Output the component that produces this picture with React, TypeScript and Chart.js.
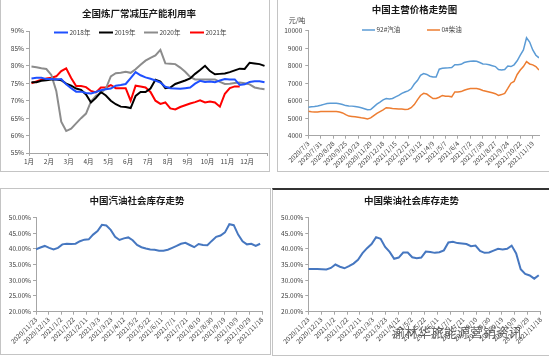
import React, { useEffect, useRef } from 'react';
import { Chart, registerables } from 'chart.js';

Chart.register(...registerables);

const FONT = '"Noto Sans CJK SC", "Noto Sans", sans-serif';

// ---------- Chart 1: 全国炼厂常减压产能利用率 ----------
const monthLabels = ['1月', '2月', '3月', '4月', '5月', '6月', '7月', '8月', '9月', '10月', '11月', '12月'];
const util2018 = [76.4, 76.6, 76.6, 76.2, 76.2, 76.1, 76.2, 74.7, 73.6, 72.6, 72.6, 72.2, 72.1, 72.5, 73.0, 73.3, 73.5, 74.3, 74.5, 74.8, 76.5, 78.2, 77.3, 76.7, 76.3, 75.8, 75.2, 74.0, 73.6, 73.5, 73.4, 73.6, 73.8, 74.9, 75.7, 75.4, 75.5, 75.3, 75.8, 76.2, 76.1, 76.1, 74.5, 74.7, 75.4, 75.6, 75.6, 75.3];
const util2019 = [75.3, 75.3, 75.7, 75.9, 76.1, 76.1, 75.9, 74.9, 74.3, 73.5, 73.1, 71.8, 69.5, 70.8, 72.5, 71.5, 70.0, 69.0, 68.3, 68.2, 67.9, 71.4, 72.5, 72.5, 73.5, 76.0, 75.5, 73.6, 73.8, 74.8, 75.3, 75.8, 76.4, 77.7, 78.8, 80.0, 78.5, 77.6, 77.7, 77.8, 78.2, 78.7, 79.2, 79.1, 80.9, 80.7, 80.5, 80.0];
const util2020 = [79.8, 79.6, 79.3, 79.1, 77.4, 72.8, 64.0, 61.3, 62.0, 63.5, 65.0, 66.3, 69.8, 71.4, 72.2, 73.5, 77.0, 77.9, 78.0, 78.3, 78.0, 79.0, 80.3, 81.5, 82.3, 83.0, 84.6, 80.7, 80.6, 80.5, 79.5, 78.3, 76.8, 76.1, 76.1, 76.1, 76.1, 76.1, 75.4, 74.8, 74.9, 75.1, 75.2, 75.0, 74.7, 73.8, 73.5, 73.3];
const util2021 = [75.0, 75.5, 76.0, 76.4, 76.6, 77.0, 78.5, 79.3, 76.5, 74.2, 74.2, 73.9, 72.8, 72.4, 73.8, 73.8, 74.5, 73.6, 73.6, 73.6, 70.0, 74.3, 74.1, 73.8, 72.5, 70.0, 69.1, 69.5, 67.8, 67.5, 68.2, 68.7, 69.2, 69.6, 70.1, 69.5, 69.8, 69.5, 68.3, 72.0, 73.6, 74.1, 74.1];
// position of each weekly reading, in months from 1月
const utilPos = (i: number) => 0.125 + i * 0.25;

// ---------- Chart 2: 中国主营价格走势图 ----------
const priceLabels = ['2020/7/3', '2020/7/31', '2020/8/28', '2020/9/25', '2020/10/23', '2020/11/20', '2020/12/18', '2021/1/15', '2021/2/12', '2021/3/12', '2021/4/9', '2021/5/7', '2021/6/4', '2021/7/2', '2021/7/30', '2021/8/27', '2021/9/24', '2021/10/22', '2021/11/19'];
const price92 = [5620, 5650, 5670, 5700, 5740, 5790, 5840, 5850, 5850, 5860, 5830, 5780, 5720, 5700, 5690, 5670, 5640, 5600, 5540, 5480, 5500, 5650, 5800, 5920, 6050, 6120, 6100, 6130, 6220, 6300, 6420, 6500, 6560, 6680, 6950, 7150, 7450, 7550, 7500, 7400, 7350, 7350, 7800, 7850, 7870, 7880, 7900, 8060, 8050, 8080, 8180, 8220, 8260, 8270, 8250, 8180, 8100, 8090, 8050, 8000, 7950, 7780, 7750, 7780, 7980, 7950, 8050, 8280, 8600, 8900, 9600, 9350, 8900, 8600, 8450];
const price0 = [5400, 5370, 5350, 5360, 5380, 5380, 5380, 5380, 5380, 5380, 5350, 5300, 5200, 5120, 5100, 5080, 5050, 5020, 5000, 4960, 5020, 5150, 5280, 5380, 5480, 5600, 5580, 5550, 5540, 5520, 5520, 5500, 5510, 5600, 5780, 6050, 6300, 6420, 6380, 6250, 6120, 6130, 6200, 6300, 6250, 6250, 6220, 6500, 6500, 6520, 6600, 6650, 6700, 6700, 6700, 6650, 6580, 6540, 6500, 6450, 6400, 6300, 6350, 6420, 6700, 7000, 7100, 7500, 7750, 7950, 8230, 8100, 8050, 7950, 7750];

// ---------- Charts 3 & 4: 社会库存 ----------
const stockLabels = ['2020/11/23', '2020/12/13', '2021/1/2', '2021/1/22', '2021/2/11', '2021/3/3', '2021/3/23', '2021/4/12', '2021/5/2', '2021/5/22', '2021/6/11', '2021/7/1', '2021/7/21', '2021/8/10', '2021/8/30', '2021/9/19', '2021/10/9', '2021/10/29', '2021/11/18'];
const gasStock = [39.8, 40.4, 40.9, 40.3, 39.8, 40.3, 41.4, 41.6, 41.5, 41.6, 42.4, 42.9, 43.0, 44.5, 45.6, 47.6, 47.4, 46.0, 43.8, 42.8, 43.3, 43.6, 42.7, 41.2, 40.5, 40.1, 39.8, 39.7, 39.4, 39.4, 39.7, 40.3, 40.9, 41.6, 41.9, 41.2, 40.5, 41.5, 41.2, 41.1, 42.5, 43.8, 44.2, 45.2, 47.8, 47.5, 44.5, 42.4, 41.4, 41.6, 40.9, 41.6];
const dieselStock = [33.6, 33.6, 33.6, 33.5, 33.4, 33.9, 35.0, 34.3, 33.8, 34.5, 35.3, 36.5, 38.6, 40.2, 41.5, 43.7, 43.2, 40.6, 39.0, 36.8, 37.2, 38.8, 38.8, 37.3, 37.0, 37.2, 39.1, 39.0, 38.7, 38.9, 39.5, 42.0, 42.2, 41.8, 41.7, 41.5, 40.8, 41.0, 39.3, 38.7, 38.8, 39.4, 40.0, 39.8, 40.0, 41.0, 38.5, 33.5, 32.0, 31.5, 30.5, 31.6];

const AXIS = '#a6a6a6';
const TICK_COLOR = '#404040';
const tickFont = { family: FONT, size: 6.5 };

const decorPlugin = {
  id: 'decor',
  afterDraw(chart: any, _args: any, opts: any) {
    const ctx = chart.ctx;
    ctx.save();
    for (const t of opts.texts || []) {
      ctx.font = t.font;
      ctx.fillStyle = t.color;
      ctx.textAlign = t.align || 'center';
      ctx.textBaseline = 'middle';
      ctx.fillText(t.text, t.x, t.y);
    }
    for (const l of opts.legend || []) {
      const ds = chart.data.datasets[l.ds];
      ctx.strokeStyle = ds.borderColor;
      ctx.lineWidth = l.lw;
      ctx.beginPath();
      ctx.moveTo(l.x, l.y);
      ctx.lineTo(l.x + l.len, l.y);
      ctx.stroke();
      ctx.font = `6.5px ${FONT}`;
      ctx.fillStyle = '#404040';
      ctx.textAlign = 'left';
      ctx.textBaseline = 'middle';
      ctx.fillText(ds.label, l.x + l.len + 1.5, l.y);
    }
    ctx.restore();
  },
};

function axisBase(size: number, isX: boolean) {
  return {
    afterFit: (s: any) => {
      if (isX) s.height = size;
      else s.width = size;
    },
    grid: { display: true, drawOnChartArea: false, tickLength: 3, color: AXIS },
    border: { display: true, color: AXIS },
  };
}

function lineDs(label: string, values: number[], pos: (i: number) => number, color: string, width: number) {
  return {
    label,
    data: values.map((v, i) => ({ x: pos(i), y: v })),
    borderColor: color,
    backgroundColor: color,
    borderWidth: width,
    pointRadius: 0,
    tension: 0,
    fill: false,
  };
}

const titleFont = `bold 9.5px ${FONT}`;

function utilConfig(): any {
  return {
    type: 'line',
    data: {
      datasets: [
        lineDs('2018年', util2018, utilPos, '#1f50ff', 2),
        lineDs('2019年', util2019, utilPos, '#000000', 2),
        lineDs('2020年', util2020, utilPos, '#8c8c8c', 2),
        lineDs('2021年', util2021, utilPos, '#ff0000', 2),
      ],
    },
    options: {
      animation: false,
      responsive: false,
      maintainAspectRatio: false,
      layout: { padding: { top: 31, right: 3, left: 0, bottom: 0 } },
      plugins: {
        legend: { display: false },
        tooltip: { enabled: false },
        decor: {
          texts: [{ text: '全国炼厂常减压产能利用率', x: 139, y: 13, font: titleFont, color: '#1a1a1a' }],
          legend: [
            { ds: 0, x: 54, y: 32.5, len: 14, lw: 2 },
            { ds: 1, x: 99, y: 32.5, len: 14, lw: 2 },
            { ds: 2, x: 144, y: 32.5, len: 14, lw: 2 },
            { ds: 3, x: 190, y: 32.5, len: 14, lw: 2 },
          ],
        },
      },
      scales: {
        x: {
          type: 'linear',
          min: 0,
          max: 12,
          ...axisBase(19, true),
          ticks: {
            stepSize: 1,
            autoSkip: false,
            maxRotation: 0,
            minRotation: 0,
            padding: 2,
            font: tickFont,
            color: TICK_COLOR,
            callback: (v: number) => monthLabels[v] ?? '',
          },
        },
        y: {
          min: 55,
          max: 90,
          ...axisBase(29, false),
          ticks: { stepSize: 5, padding: 2, font: tickFont, color: TICK_COLOR, callback: (v: number) => v + '%' },
        },
      },
    },
  };
}

function priceConfig(): any {
  const pos = (i: number) => i;
  return {
    type: 'line',
    data: {
      datasets: [
        lineDs('92#汽油', price92, pos, '#5b9bd5', 1.5),
        lineDs('0#柴油', price0, pos, '#ed7d31', 1.5),
      ],
    },
    options: {
      animation: false,
      responsive: false,
      maintainAspectRatio: false,
      layout: { padding: { top: 30.7, right: 10, left: 0, bottom: 0 } },
      plugins: {
        legend: { display: false },
        tooltip: { enabled: false },
        decor: {
          texts: [
            { text: '中国主营价格走势图', x: 138.5, y: 9.5, font: titleFont, color: '#1a1a1a' },
            { text: '元/吨', x: 21, y: 20, font: `7px ${FONT}`, color: '#404040' },
          ],
          legend: [
            { ds: 0, x: 86, y: 30, len: 13, lw: 1.5 },
            { ds: 1, x: 151, y: 30, len: 13, lw: 1.5 },
          ],
        },
      },
      scales: {
        x: {
          type: 'linear',
          min: 0,
          max: 74,
          ...axisBase(36.3, true),
          ticks: {
            stepSize: 4,
            includeBounds: false,
            autoSkip: false,
            maxRotation: 45,
            minRotation: 45,
            padding: 1,
            font: tickFont,
            color: TICK_COLOR,
            callback: (v: number) => (v % 4 === 0 ? priceLabels[v / 4] ?? '' : ''),
          },
        },
        y: {
          min: 4000,
          max: 10000,
          ...axisBase(32.3, false),
          ticks: { stepSize: 1000, padding: 3, font: tickFont, color: TICK_COLOR, callback: (v: number) => String(v) },
        },
      },
    },
  };
}

function stockConfig(title: string, values: number[], yWidth: number, xHeight: number, padRight: number, titleX: number): any {
  const pos = (i: number) => i * 7;
  return {
    type: 'line',
    data: { datasets: [lineDs(title, values, pos, '#4677c0', 2)] },
    options: {
      animation: false,
      responsive: false,
      maintainAspectRatio: false,
      layout: { padding: { top: 29.3, right: padRight, left: 0, bottom: 0 } },
      plugins: {
        legend: { display: false },
        tooltip: { enabled: false },
        decor: { texts: [{ text: title, x: titleX, y: 12.3, font: titleFont, color: '#1a1a1a' }] },
      },
      scales: {
        x: {
          type: 'linear',
          min: 0,
          max: 360,
          ...axisBase(xHeight, true),
          ticks: {
            stepSize: 20,
            autoSkip: false,
            maxRotation: 45,
            minRotation: 45,
            padding: 1,
            font: tickFont,
            color: TICK_COLOR,
            callback: (v: number) => stockLabels[v / 20] ?? '',
          },
        },
        y: {
          min: 20,
          max: 50,
          ...axisBase(yWidth, false),
          ticks: { stepSize: 5, padding: 2, font: tickFont, color: TICK_COLOR, callback: (v: number) => v.toFixed(2) + '%' },
        },
      },
    },
  };
}

function ChartBox({ left, top, width, height, make }: { left: number; top: number; width: number; height: number; make: () => any }) {
  const ref = useRef<HTMLCanvasElement>(null);
  useEffect(() => {
    const cfg = make();
    cfg.plugins = [decorPlugin];
    const chart = new Chart(ref.current as HTMLCanvasElement, cfg);
    return () => chart.destroy();
  }, []);
  return (
    <canvas
      ref={ref}
      width={width}
      height={height}
      style={{ position: 'absolute', left, top, width, height }}
    />
  );
}

function Frame({ left, top, width, height, style }: any) {
  return (
    <div
      style={{
        position: 'absolute',
        left,
        top,
        width,
        height,
        boxSizing: 'border-box',
        border: '1px solid #c4c4c4',
        ...style,
      }}
    />
  );
}

export default function App() {
  return (
    <div style={{ position: 'absolute', left: 0, top: 0, width: 549, height: 357, background: '#fff', overflow: 'hidden' }}>
      <Frame left={0} top={-1} width={270} height={173} />
      <Frame left={277} top={-1} width={280} height={173} />
      <Frame left={0} top={188} width={271} height={167} />
      <Frame left={272} top={188} width={280} height={168} style={{ borderTop: '2px solid #333' }} />
      <ChartBox left={0} top={0} width={270} height={172} make={utilConfig} />
      <ChartBox left={276} top={0} width={273} height={172} make={priceConfig} />
      <ChartBox left={0} top={188} width={271} height={168} make={() => stockConfig('中国汽油社会库存走势', gasStock, 36, 44.3, 9, 137)} />
      <ChartBox left={272} top={188} width={277} height={169} make={() => stockConfig('中国柴油社会库存走势', dieselStock, 36.3, 45.3, 8.3, 139.5)} />
      <div
        style={{
          position: 'absolute',
          left: 392,
          top: 323,
          fontFamily: FONT,
          fontSize: 13,
          lineHeight: '18px',
          color: 'rgba(60,60,60,0.75)',
          whiteSpace: 'nowrap',
        }}
      >
        渝林华旅能源营销资讯
      </div>
    </div>
  );
}
